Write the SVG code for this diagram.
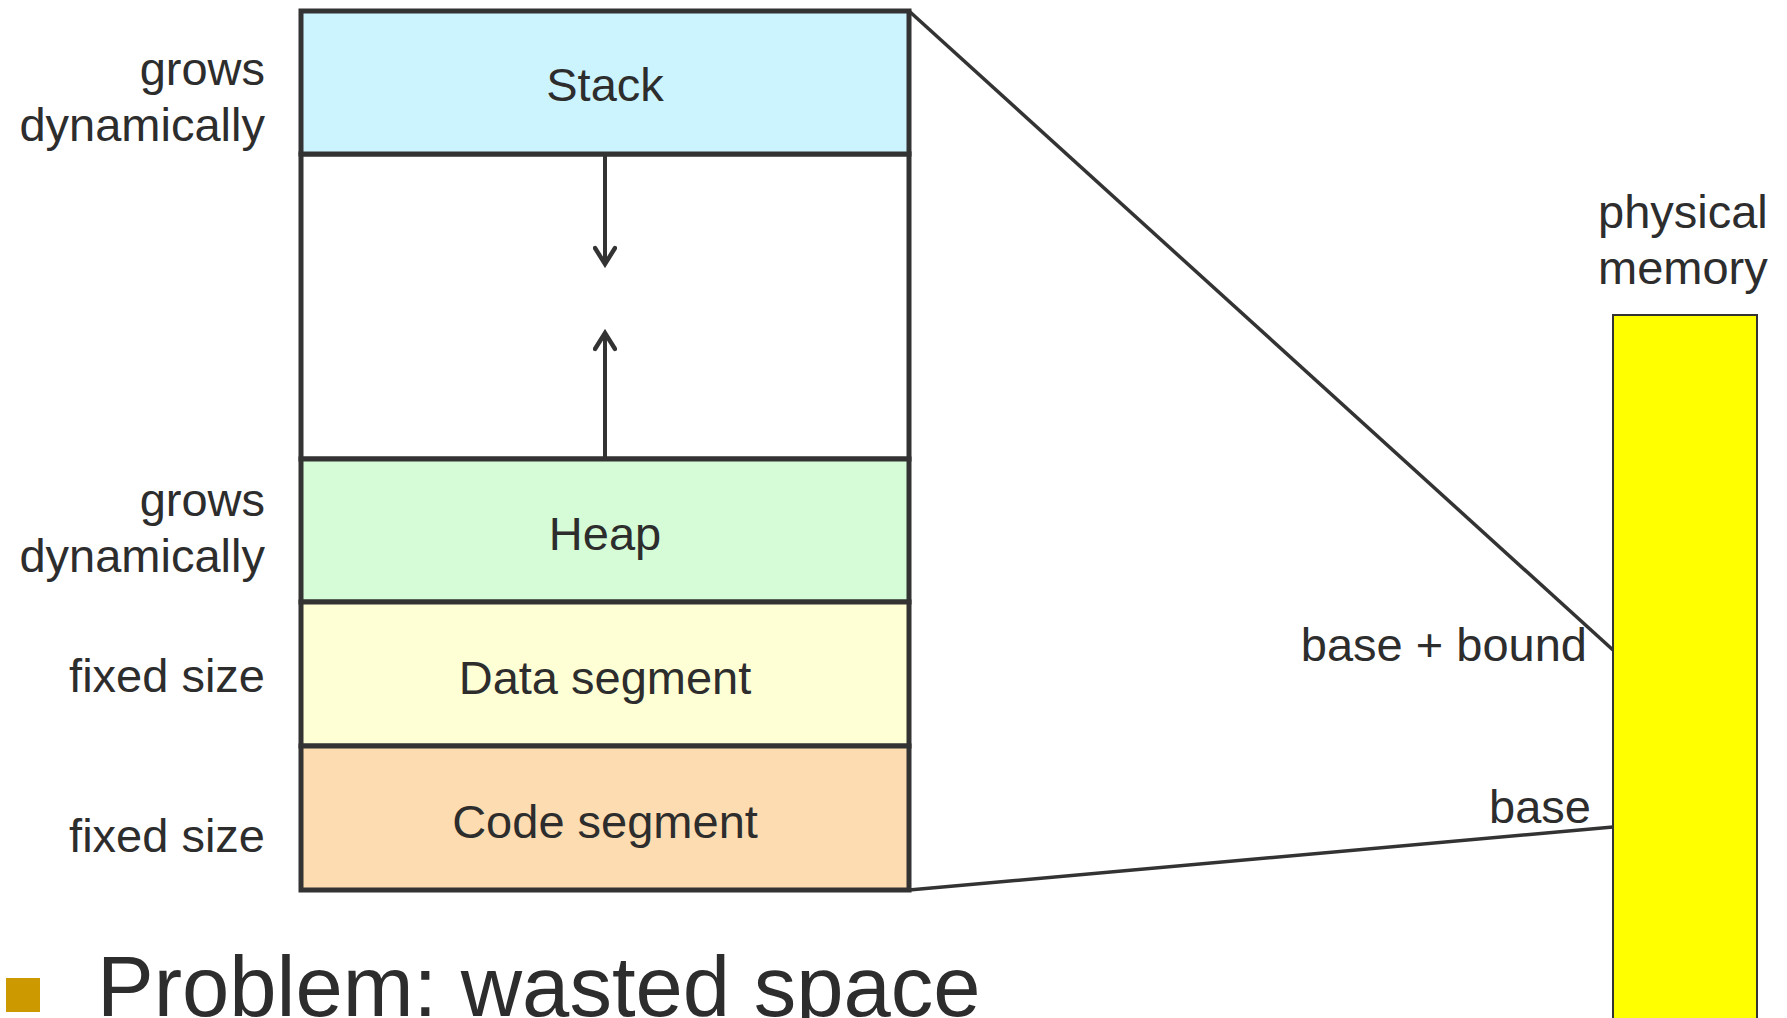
<svg xmlns="http://www.w3.org/2000/svg" width="1787" height="1018" viewBox="0 0 1787 1018">
  <style>
    .seg { stroke: #333333; stroke-width: 5; }
    .lbl { font-family: "Liberation Sans", Arial, sans-serif; font-size: 47px; fill: #2d2d2d; }
    .mid { text-anchor: middle; }
    .end { text-anchor: end; }
    .wire { stroke: #333333; stroke-width: 3.5; fill: none; }
    .grow { stroke: #333333; stroke-width: 4; fill: none; }
  </style>
  <defs>
    <marker id="chev" viewBox="0 0 12 12" refX="10" refY="6" markerWidth="6" markerHeight="6" markerUnits="strokeWidth" orient="auto">
      <path d="M2,1 L10,6 L2,11" fill="none" stroke="#333333" stroke-width="2.2" stroke-linecap="round" stroke-linejoin="miter"/>
    </marker>
  </defs>

  <rect width="1787" height="1018" fill="#ffffff"/>

  <!-- address space segments -->
  <g id="free-space">
    <rect class="seg" x="301" y="154" width="608" height="305" fill="#ffffff"/>
  </g>
  <g id="stack">
    <rect class="seg" x="301" y="11" width="608" height="143" fill="#ccf4fe"/>
    <text class="lbl mid" x="605" y="101">Stack</text>
  </g>
  <g id="heap">
    <rect class="seg" x="301" y="459" width="608" height="143" fill="#d5fcd6"/>
    <text class="lbl mid" x="605" y="550">Heap</text>
  </g>
  <g id="data-segment">
    <rect class="seg" x="301" y="602" width="608" height="144" fill="#ffffd5"/>
    <text class="lbl mid" x="605" y="694">Data segment</text>
  </g>
  <g id="code-segment">
    <rect class="seg" x="301" y="746" width="608" height="144" fill="#fcdcb0"/>
    <text class="lbl mid" x="605" y="838">Code segment</text>
  </g>

  <!-- side annotations -->
  <g id="stack-note">
    <text class="lbl end" x="265" y="85">grows</text>
    <text class="lbl end" x="265" y="141">dynamically</text>
  </g>
  <g id="heap-note">
    <text class="lbl end" x="265" y="516">grows</text>
    <text class="lbl end" x="265" y="572">dynamically</text>
  </g>
  <g id="data-note">
    <text class="lbl end" x="265" y="692">fixed size</text>
  </g>
  <g id="code-note">
    <text class="lbl end" x="265" y="852">fixed size</text>
  </g>

  <!-- physical memory -->
  <g id="physical-memory">
    <text class="lbl" x="1598" y="228">physical</text>
    <text class="lbl" x="1598" y="284">memory</text>
    <rect x="1613" y="315" width="144" height="720" fill="#ffff00" stroke="#333333" stroke-width="2"/>
  </g>
  <g id="bound-labels">
    <text class="lbl end" x="1587" y="661">base + bound</text>
    <text class="lbl end" x="1591" y="823">base</text>
  </g>

  <!-- connectors -->
  <g id="connectors">
    <line class="grow" x1="605" y1="156" x2="605" y2="264" marker-end="url(#chev)"/>
    <line class="grow" x1="605" y1="457" x2="605" y2="333" marker-end="url(#chev)"/>
    <line class="wire" x1="909" y1="11" x2="1613" y2="650"/>
    <line class="wire" x1="909" y1="890" x2="1613" y2="827"/>
  </g>

  <!-- bullet line -->
  <g id="problem">
    <rect x="6" y="978" width="34" height="34" fill="#cc9900"/>
    <text x="97" y="1016" font-family="Liberation Sans, Arial, sans-serif" font-size="85" fill="#2d2d2d">Problem: wasted space</text>
  </g>
</svg>
